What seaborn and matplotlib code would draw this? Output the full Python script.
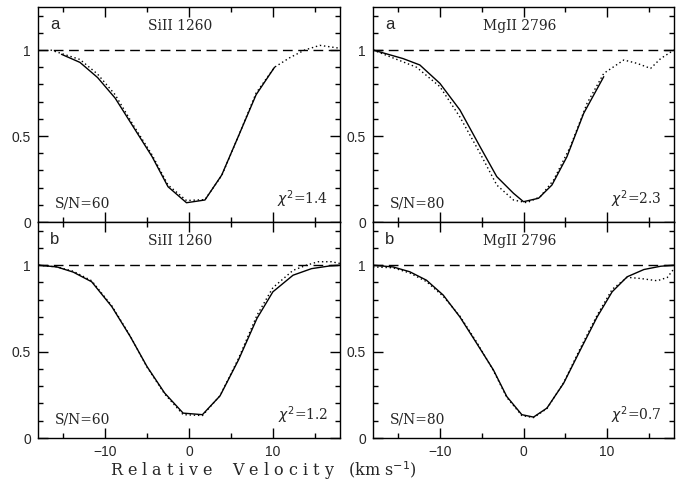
import numpy as np
import pandas as pd
import matplotlib
matplotlib.use("Agg")
import matplotlib.pyplot as plt
import seaborn as sns
from matplotlib.ticker import MultipleLocator, FixedLocator

sns.set_theme(style="ticks")
plt.rcParams["font.family"] = ["Liberation Sans", "DejaVu Sans"]

# panel a, SiII 1260
si_a_model_v = [-15.2, -13.0, -10.9, -8.8, -6.6, -4.4, -2.5, -0.3, 1.9, 3.9, 5.9, 8.0, 10.2]
si_a_model_f = [0.975, 0.928, 0.84, 0.72, 0.55, 0.38, 0.205, 0.112, 0.128, 0.273, 0.50, 0.74, 0.90]
si_a_data_v = [-16.5, -13.0, -10.9, -8.8, -6.6, -4.4, -2.5, -0.3, 1.9, 3.9, 5.9, 8.0, 10.2, 12.0, 13.8, 15.6, 18.0]
si_a_data_f = [1.0, 0.945, 0.86, 0.74, 0.56, 0.39, 0.215, 0.125, 0.13, 0.27, 0.50, 0.75, 0.90, 0.955, 1.0, 1.027, 1.01]

# panel a, MgII 2796
mg_a_model_v = [-18.0, -14.4, -12.4, -10.0, -7.6, -5.2, -3.2, -1.2, 0.0, 1.8, 3.4, 5.2, 7.2, 9.6]
mg_a_model_f = [1.0, 0.95, 0.913, 0.806, 0.651, 0.438, 0.264, 0.167, 0.118, 0.138, 0.215, 0.38, 0.632, 0.845]
mg_a_data_v = [-18.0, -12.8, -10.0, -7.6, -5.2, -3.2, -1.2, 0.4, 2.0, 3.6, 5.6, 7.6, 9.6, 12.0, 13.6, 15.2, 16.4, 18.0]
mg_a_data_f = [1.0, 0.90, 0.787, 0.61, 0.40, 0.215, 0.128, 0.112, 0.147, 0.244, 0.438, 0.69, 0.864, 0.942, 0.922, 0.893, 0.95, 1.0]

# panel b, SiII 1260
si_b_model_v = [-17.9, -15.75, -13.8, -11.6, -9.2, -7.0, -5.0, -2.9, -0.7, 1.6, 3.7, 5.9, 8.1, 10.0, 12.4, 14.6, 16.8, 18.0]
si_b_model_f = [1.0, 0.99, 0.96, 0.904, 0.76, 0.587, 0.413, 0.26, 0.144, 0.135, 0.244, 0.452, 0.692, 0.846, 0.942, 0.98, 0.996, 1.0]
si_b_data_v = [-17.9, -15.75, -13.8, -11.6, -9.2, -7.0, -5.0, -2.9, -0.7, 1.6, 3.7, 5.9, 8.1, 10.0, 12.4, 14.0, 15.4, 17.0, 18.0]
si_b_data_f = [1.0, 0.99, 0.965, 0.91, 0.765, 0.59, 0.41, 0.255, 0.135, 0.13, 0.245, 0.46, 0.71, 0.87, 0.97, 1.0, 1.02, 1.02, 1.01]

# panel b, MgII 2796
mg_b_model_v = [-18.0, -15.6, -13.6, -11.6, -9.6, -7.6, -5.6, -3.6, -2.0, -0.2, 1.2, 2.8, 4.8, 6.8, 8.8, 10.6, 12.4, 14.4, 16.4, 18.0]
mg_b_model_f = [1.0, 0.99, 0.962, 0.913, 0.827, 0.70, 0.548, 0.394, 0.24, 0.135, 0.121, 0.173, 0.317, 0.51, 0.70, 0.846, 0.933, 0.975, 0.994, 1.0]
mg_b_data_v = [-18.0, -15.6, -13.6, -11.6, -9.6, -7.6, -5.6, -3.6, -2.0, -0.2, 1.2, 2.8, 4.8, 6.8, 8.8, 10.6, 12.4, 14.0, 16.0, 17.2, 18.0]
mg_b_data_f = [0.99, 0.985, 0.955, 0.905, 0.82, 0.705, 0.555, 0.39, 0.235, 0.13, 0.118, 0.17, 0.32, 0.52, 0.71, 0.86, 0.93, 0.923, 0.91, 0.929, 0.98]

panels = [
    ("a", "SiII 1260", "S/N=60", "1.4", si_a_model_v, si_a_model_f, si_a_data_v, si_a_data_f),
    ("a", "MgII 2796", "S/N=80", "2.3", mg_a_model_v, mg_a_model_f, mg_a_data_v, mg_a_data_f),
    ("b", "SiII 1260", "S/N=60", "1.2", si_b_model_v, si_b_model_f, si_b_data_v, si_b_data_f),
    ("b", "MgII 2796", "S/N=80", "0.7", mg_b_model_v, mg_b_model_f, mg_b_data_v, mg_b_data_f),
]

W, H = 688, 488
fig = plt.figure(figsize=(6.88, 4.88), dpi=100)
fig.patch.set_facecolor("white")

# axes boxes in pixels: left, top, right, bottom
boxes = [(38, 7, 340, 222), (373, 7, 674, 222), (38, 222, 340, 438), (373, 222, 674, 438)]

serif = ["DejaVu Serif"]

for i, (box, p) in enumerate(zip(boxes, panels)):
    l, t, r, b = box
    ax = fig.add_axes([l / W, 1 - b / H, (r - l) / W, (b - t) / H])
    ax.set_facecolor("white")
    letter, ion, sn, chi, mv, mf, dv, df = p

    model = pd.DataFrame({"v": mv, "f": mf})
    data = pd.DataFrame({"v": dv, "f": df})
    sns.lineplot(data=data, x="v", y="f", ax=ax, color="black", lw=1.0,
                 linestyle=(0, (1, 2)), sort=False, estimator=None)
    sns.lineplot(data=model, x="v", y="f", ax=ax, color="black", lw=1.0,
                 sort=False, estimator=None)
    ax.axhline(1.0, color="black", lw=1.0, dashes=(7, 4))

    ax.set_xlim(-18, 18)
    ax.set_ylim(0, 1.25)
    ax.xaxis.set_major_locator(FixedLocator([-10, 0, 10]))
    ax.xaxis.set_minor_locator(MultipleLocator(5))
    ax.yaxis.set_major_locator(FixedLocator([0, 0.5, 1]))
    ax.yaxis.set_minor_locator(MultipleLocator(0.1))
    ax.set_yticklabels(["0", "0.5", "1"])
    ax.tick_params(which="both", direction="in", top=True, right=True,
                   color="black", width=1.0, labelsize=10, pad=5)
    ax.tick_params(which="major", length=7)
    ax.tick_params(which="minor", length=3.5)
    if i < 2:
        ax.tick_params(labelbottom=False)
    for s in ax.spines.values():
        s.set_color("black")
        s.set_linewidth(1.0)
    ax.set_xlabel("")
    ax.set_ylabel("")

    ax.text(0.04, 0.955, letter, transform=ax.transAxes, fontsize=12,
            ha="left", va="top")
    ax.text(0.365, 0.945, ion, transform=ax.transAxes, fontsize=10,
            ha="left", va="top", family=serif)
    ax.text(0.057, 0.055, sn, transform=ax.transAxes, fontsize=10,
            ha="left", va="bottom", family=serif)
    ax.text(0.96, 0.055, r"$\chi^2$=" + chi, transform=ax.transAxes, fontsize=10,
            ha="right", va="bottom", family=serif)

fig.text(110 / W, 1 - 471 / H,
         "R e l a t i v e    V e l o c i t y   (km s$^{-1}$)",
         fontsize=11.5, family=serif, ha="left", va="center")

fig.savefig("out.png", dpi=100)
